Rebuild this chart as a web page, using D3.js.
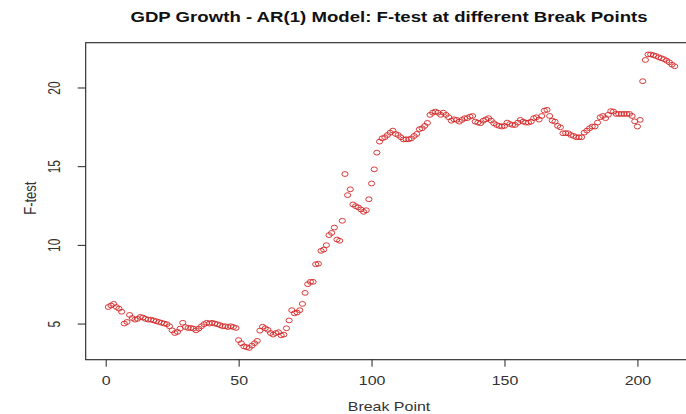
<!DOCTYPE html>
<html>
<head>
<meta charset="utf-8">
<script src="https://cdn.jsdelivr.net/npm/d3@7"></script>
<style>
  body { margin: 0; background: #fff; }
  svg { display: block; font-family: "Liberation Sans", Arial, sans-serif; }
</style>
</head>
<body>
<div id="chart"></div>
<script>
// F-test values, one per break point (break point = position in the list, starting at 1)
const fTest = [
  6.05, 6.15, 6.25, 6.05, 5.95, 5.75, 5.0, 5.1, 5.55, 5.35,
  5.25, 5.3, 5.42, 5.38, 5.3, 5.25, 5.25, 5.2, 5.15, 5.1,
  5.05, 5.0, 4.96, 4.83, 4.57, 4.4, 4.47, 4.68, 5.05, 4.78,
  4.72, 4.72, 4.68, 4.57, 4.68, 4.83, 4.96, 5.05, 5.0, 5.05,
  5.0, 4.96, 4.9, 4.83, 4.83, 4.78, 4.83, 4.78, 4.72, 3.95,
  3.75, 3.55, 3.5, 3.45, 3.6, 3.75, 3.9, 4.55, 4.8, 4.7,
  4.6, 4.4, 4.3, 4.4, 4.45, 4.25, 4.3, 4.7, 5.2, 5.85,
  5.65, 5.7, 5.85, 6.25, 6.95, 7.5, 7.65, 7.65, 8.77, 8.8,
  9.62, 9.7, 9.98, 10.62, 10.76, 11.1, 10.34, 10.26, 11.53, 14.5,
  13.16, 13.53, 12.57, 12.46, 12.38, 12.25, 12.1, 12.2, 12.9, 13.9,
  14.8, 15.86, 16.56, 16.77, 16.84, 16.98, 17.13, 17.26, 17.05, 16.98,
  16.84, 16.7, 16.71, 16.71, 16.77, 16.92, 17.05, 17.35, 17.41, 17.56,
  17.75, 18.26, 18.4, 18.47, 18.4, 18.26, 18.4, 18.26, 18.11, 17.89,
  17.98, 17.94, 17.83, 17.94, 18.05, 18.05, 18.15, 18.19, 17.83, 17.77,
  17.73, 17.89, 17.98, 18.05, 17.9, 17.73, 17.62, 17.56, 17.52, 17.56,
  17.77, 17.68, 17.62, 17.62, 17.77, 17.94, 17.83, 17.77, 17.77, 17.83,
  18.05, 18.11, 17.96, 18.19, 18.53, 18.58, 18.19, 17.89, 17.83, 17.56,
  17.47, 17.09, 17.1, 17.09, 16.98, 16.92, 16.84, 16.84, 16.84, 17.13,
  17.26, 17.41, 17.52, 17.52, 17.77, 18.11, 18.19, 18.05, 18.26, 18.5,
  18.47, 18.32, 18.32, 18.32, 18.32, 18.32, 18.32, 18.19, 17.85, 17.52,
  17.94, 20.4, 21.75, 22.1, 22.1, 22.05, 22.0, 21.92, 21.86, 21.8,
  21.7, 21.6, 21.45, 21.35
];
const breakPoints = fTest.map((d, i) => i + 1);

const xTicks = [0, 50, 100, 150, 200];
const yTicks = [5, 10, 15, 20];

const title = "GDP Growth - AR(1) Model: F-test at different Break Points";
const xLabel = "Break Point";
const yLabel = "F-test";

const width = 686, height = 414;
// plot box, right edge runs past the window like in the source image
const box = {left: 85.7, top: 42.7, right: 697.3, bottom: 359.7};
// the source picture is stretched sideways, text follows that
const stretch = 1.33;

const data = breakPoints.map((b, i) => ({b: b, f: fTest[i]}));

// R style domains: data range padded by 4% each side
const pad = (lo, hi) => [lo - (hi - lo) * 0.04, hi + (hi - lo) * 0.04];

const x = d3.scaleLinear()
  .domain(pad(d3.min(breakPoints), d3.max(breakPoints)))
  .range([box.left, box.right]);

const y = d3.scaleLinear()
  .domain(pad(d3.min(fTest), d3.max(fTest)))
  .range([box.bottom, box.top]);

const svg = d3.select("#chart")
  .append("svg")
    .attr("width", width)
    .attr("height", height);

// frame
svg.append("rect")
  .attr("x", box.left)
  .attr("y", box.top)
  .attr("width", box.right - box.left)
  .attr("height", box.bottom - box.top)
  .attr("fill", "none")
  .attr("stroke", "#222")
  .attr("stroke-width", 1.1);

// X axis
const xAxis = svg.append("g")
  .attr("transform", `translate(0,${box.bottom})`)
  .call(d3.axisBottom(x).tickValues(xTicks).tickSize(7).tickSizeOuter(0));
xAxis.select(".domain").remove();
xAxis.selectAll("line").attr("stroke", "#222");
xAxis.selectAll("text")
  .attr("y", null)
  .attr("dy", null)
  .attr("transform", `translate(0,25) scale(${stretch},1)`)
  .style("font-size", "12px")
  .style("font-family", "Liberation Sans, Arial, sans-serif")
  .attr("fill", "#333");

// Y axis, labels turned like base R
const yAxis = svg.append("g")
  .attr("transform", `translate(${box.left},0)`)
  .call(d3.axisLeft(y).tickValues(yTicks).tickSize(8).tickSizeOuter(0));
yAxis.select(".domain").remove();
yAxis.selectAll("line").attr("stroke", "#222");
yAxis.selectAll("text")
  .attr("x", null)
  .attr("dy", null)
  .attr("transform", `translate(-31,0) scale(${stretch},1) rotate(-90)`)
  .attr("text-anchor", "middle")
  .attr("dominant-baseline", "central")
  .style("font-size", "12px")
  .style("font-family", "Liberation Sans, Arial, sans-serif")
  .attr("fill", "#333");

// points
svg.append("g")
  .selectAll("ellipse")
  .data(data)
  .join("ellipse")
    .attr("cx", d => x(d.b))
    .attr("cy", d => y(d.f))
    .attr("rx", 3.1)
    .attr("ry", 2.4)
    .attr("fill", "none")
    .attr("stroke", "#d42424")
    .attr("stroke-width", 0.9);

// title and labels
svg.append("text")
  .attr("transform", `translate(389,21.5) scale(${stretch},1)`)
  .attr("text-anchor", "middle")
  .style("font-size", "14px")
  .style("font-weight", "bold")
  .attr("fill", "#111")
  .text(title);

svg.append("text")
  .attr("transform", `translate(389,411) scale(${stretch},1)`)
  .attr("text-anchor", "middle")
  .style("font-size", "12px")
  .attr("fill", "#333")
  .text(xLabel);

svg.append("text")
  .attr("transform", `translate(36,${(box.top + box.bottom) / 2 - 3}) scale(${stretch},1) rotate(-90)`)
  .attr("text-anchor", "middle")
  .style("font-size", "13px")
  .attr("fill", "#333")
  .text(yLabel);
</script>
</body>
</html>
